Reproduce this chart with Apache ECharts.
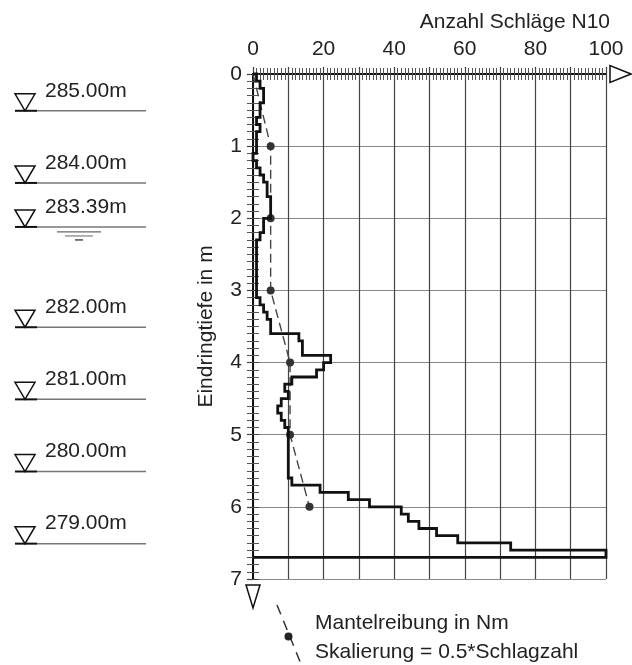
<!DOCTYPE html>
<html><head><meta charset="utf-8">
<script src="https://cdn.jsdelivr.net/npm/echarts@6/dist/echarts.min.js"></script>
<style>html,body{margin:0;padding:0;background:#fff}#c{width:632px;height:665px}</style>
</head><body><div id="c"></div>
<script>
// ---- data ----
const depthTop = [0.0,0.1,0.2,0.3,0.4,0.5,0.6,0.7,0.8,0.9,
  1.0,1.1,1.2,1.3,1.4,1.5,1.6,1.7,1.8,1.9,
  2.0,2.1,2.2,2.3,2.4,2.5,2.6,2.7,2.8,2.9,
  3.0,3.1,3.2,3.3,3.4,3.5,3.6,3.7,3.8,3.9,
  4.0,4.1,4.2,4.3,4.4,4.5,4.6,4.7,4.8,4.9,
  5.0,5.1,5.2,5.3,5.4,5.5,5.6,5.7,5.8,5.9,
  6.0,6.1,6.2,6.3,6.4,6.5,6.6];
const blowsN10 = [1,2,3,3,2,2,1,2,1,1,
  1,0,1,2,3,4,4,5,5,5,
  3,3,2,1,1,1,1,1,1,1,
  1,2,3,4,5,5,13,14,14,22,
  20,18,11,9,10,8,7,8,9,10,
  10,10,10,10,10,10,11,19,27,33,
  42,44,47,52,58,73,100];
const endDepth = 6.7;
const frictionDepth = [0,1,2,3,4,5,6];
const frictionValue = [0,5,5,5,10.5,10.5,16];
const elevations = [285.00,284.00,283.39,282.00,281.00,280.00,279.00];
const waterLevel = [283.39];
const xTickLabels = [0,20,40,60,80,100];

const FONT = "'Liberation Sans', Arial, Helvetica, sans-serif";
const FS = 21;

// step outline
const stepData = [[0, depthTop[0]]];
depthTop.forEach((d, i) => {
  const nd = i + 1 < depthTop.length ? depthTop[i + 1] : endDepth;
  stepData.push([blowsN10[i], d], [blowsN10[i], nd]);
});
stepData.push([0, endDepth]);

const frictionData = frictionDepth.map((d, i) => ({
  value: [frictionValue[i], d],
  symbol: i === 0 ? 'none' : 'circle'
}));

const chart = echarts.init(document.getElementById('c'), null, {renderer: 'canvas'});

const rulerX = (pos) => ({
  gridIndex: 0, type: 'value', position: pos, min: 0, max: 100, interval: 10,
  axisLine: {show: true, lineStyle: {color: '#111', width: 1.5}},
  axisTick: {show: true, inside: true, length: 6, lineStyle: {color: '#444', width: 1}},
  minorTick: {show: true, splitNumber: 10, length: 6, lineStyle: {color: '#555', width: 1}},
  axisLabel: {show: false}, splitLine: {show: false}, minorSplitLine: {show: false}
});
const rulerY = (pos) => ({
  gridIndex: 0, type: 'value', position: pos, min: 0, max: 7, interval: 1, inverse: true,
  axisLine: {show: true, lineStyle: {color: '#111', width: 1.5}},
  axisTick: {show: true, inside: true, length: 6, lineStyle: {color: '#444', width: 1}},
  minorTick: {show: true, splitNumber: 10, length: 6, lineStyle: {color: '#555', width: 1}},
  axisLabel: {show: false}, splitLine: {show: false}, minorSplitLine: {show: false}
});

const option = {
  animation: false,
  backgroundColor: '#fff',
  textStyle: {fontFamily: FONT},
  grid: [
    {left: 253, right: 26, top: 74, bottom: 86},
    {left: 0, width: 160, top: 74, bottom: 86}
  ],
  xAxis: [
    {
      gridIndex: 0, type: 'value', position: 'top', min: 0, max: 100, interval: 10,
      axisLine: {show: true, lineStyle: {color: '#111', width: 1.5}},
      axisTick: {show: true, inside: false, length: 7, lineStyle: {color: '#333', width: 1.2}},
      axisLabel: {show: true, margin: 14, fontSize: FS, color: '#222', fontFamily: FONT,
        formatter: v => xTickLabels.includes(v) ? String(v) : ''},
      splitLine: {show: true, lineStyle: {color: '#444', width: 1.2}}
    },
    rulerX('top'),
    rulerX('bottom'),
    {gridIndex: 1, type: 'value', min: 0, max: 160, show: false}
  ],
  yAxis: [
    {
      gridIndex: 0, type: 'value', position: 'left', min: 0, max: 7, interval: 1, inverse: true,
      name: 'Eindringtiefe in m', nameLocation: 'middle', nameGap: 36, nameRotate: 90,
      nameTextStyle: {fontSize: FS, color: '#222', fontFamily: FONT},
      axisLine: {show: true, lineStyle: {color: '#111', width: 1.5}},
      axisTick: {show: true, inside: false, length: 6, lineStyle: {color: '#333', width: 1.2}},
      axisLabel: {show: true, margin: 11, fontSize: FS, color: '#222', fontFamily: FONT},
      splitLine: {show: true, lineStyle: {color: '#888', width: 1.2}}
    },
    rulerY('left'),
    rulerY('right'),
    {gridIndex: 1, type: 'value', min: 278.51, max: 285.51, show: false}
  ],
  graphic: [
    {type: 'text', x: 610, y: 22, style: {text: 'Anzahl Schläge N10', fontSize: FS, fontFamily: FONT,
      fill: '#222', align: 'right', verticalAlign: 'middle'}},
    {type: 'line', shape: {x1: 277, y1: 605, x2: 301, y2: 664},
      style: {stroke: '#333', lineWidth: 1.5, lineDash: [10, 7]}},
    {type: 'circle', shape: {cx: 288.5, cy: 636.5, r: 4}, style: {fill: '#222'}},
    {type: 'text', x: 315, y: 623, style: {text: 'Mantelreibung in Nm', fontSize: FS, fontFamily: FONT,
      fill: '#222', align: 'left', verticalAlign: 'middle'}},
    {type: 'text', x: 315, y: 652, style: {text: 'Skalierung = 0.5*Schlagzahl', fontSize: FS, fontFamily: FONT,
      fill: '#222', align: 'left', verticalAlign: 'middle'}}
  ],
  series: [
    {
      type: 'line', name: 'Mantelreibung', xAxisIndex: 0, yAxisIndex: 0,
      data: frictionData, symbolSize: 8, showSymbol: true,
      lineStyle: {color: '#444', width: 1.4, type: [9, 5]},
      itemStyle: {color: '#333'}, z: 3
    },
    {
      type: 'line', name: 'N10', xAxisIndex: 0, yAxisIndex: 0,
      data: stepData, showSymbol: false, symbol: 'none',
      lineStyle: {color: '#111', width: 2.8, join: 'miter'}, z: 4, clip: false
    },
    {
      type: 'custom', xAxisIndex: 0, yAxisIndex: 0, z: 5, clip: false,
      data: [[100, 0], [0, 7]],
      renderItem: (params, api) => {
        const p = api.coord([api.value(0), api.value(1)]);
        const pts = params.dataIndex === 0
          ? [[p[0] + 4, p[1] - 8.5], [p[0] + 4, p[1] + 8.5], [p[0] + 25, p[1]]]
          : [[p[0] - 7, p[1] + 6], [p[0] + 7, p[1] + 6], [p[0], p[1] + 29]];
        return {type: 'polygon', shape: {points: pts},
          style: {fill: '#fff', stroke: '#111', lineWidth: 1.5}};
      }
    },
    {
      type: 'custom', xAxisIndex: 3, yAxisIndex: 3, clip: false,
      data: elevations.map(e => [0, e]),
      renderItem: (params, api) => {
        const e = api.value(1);
        const p = api.coord([0, e]);
        const x = p[0], y = p[1];
        return {type: 'group', children: [
          {type: 'polygon', shape: {points: [[x + 15, y - 17], [x + 35, y - 17], [x + 25, y]]},
            style: {fill: '#fff', stroke: '#111', lineWidth: 1.5}},
          {type: 'line', shape: {x1: x + 15, y1: y, x2: x + 37, y2: y}, style: {stroke: '#111', lineWidth: 2}},
          {type: 'line', shape: {x1: x + 37, y1: y, x2: x + 146, y2: y}, style: {stroke: '#777', lineWidth: 1.5}},
          {type: 'text', style: {text: e.toFixed(2) + 'm', x: x + 45, y: y - 20, fill: '#222',
            fontSize: FS, fontFamily: FONT, align: 'left', verticalAlign: 'middle'}}
        ]};
      }
    },
    {
      type: 'custom', xAxisIndex: 3, yAxisIndex: 3, clip: false,
      data: waterLevel.map(e => [0, e]),
      renderItem: (params, api) => {
        const p = api.coord([0, api.value(1)]);
        const x = p[0], y = p[1];
        return {type: 'group', children: [
          {type: 'line', shape: {x1: x + 57, y1: y + 5, x2: x + 101, y2: y + 5}, style: {stroke: '#666', lineWidth: 1.3}},
          {type: 'line', shape: {x1: x + 65, y1: y + 9, x2: x + 93, y2: y + 9}, style: {stroke: '#888', lineWidth: 1.3}},
          {type: 'line', shape: {x1: x + 75, y1: y + 13, x2: x + 83, y2: y + 13}, style: {stroke: '#333', lineWidth: 1.3}}
        ]};
      }
    }
  ]
};
chart.setOption(option);
</script>
</body></html>
